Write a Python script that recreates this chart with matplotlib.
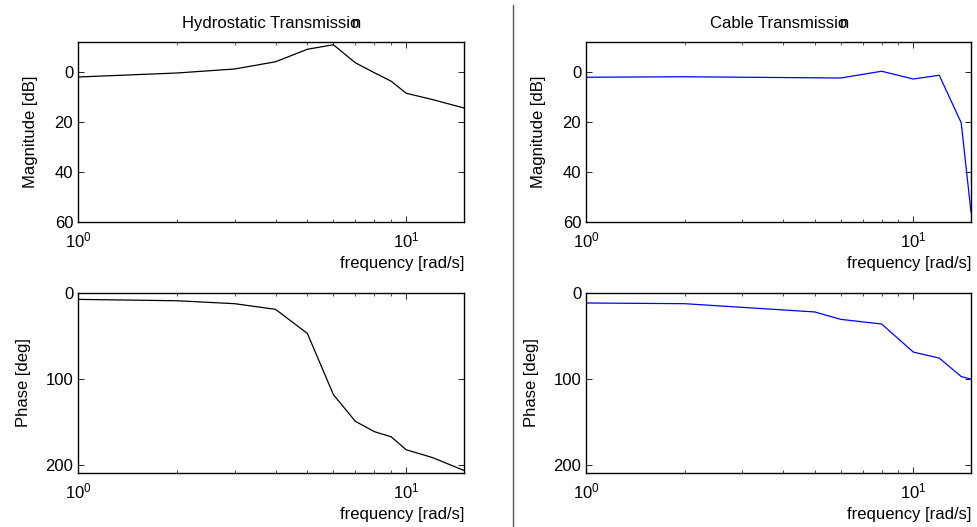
import numpy as np
import matplotlib.pyplot as plt
from matplotlib.lines import Line2D

plt.rcParams['font.family'] = ['Liberation Sans', 'DejaVu Sans']
plt.rcParams['font.size'] = 12
plt.rcParams['mathtext.default'] = 'regular'

# hydrostatic transmission (axis drawn downward)
hyd_freq = [1, 2, 3, 4, 5, 6, 7, 8, 9, 10, 12, 15]
hyd_mag = [2.0, 0.4, -1.2, -4.1, -9.1, -10.9, -3.7, 0.3, 3.7, 8.5, 11.0, 14.4]
hyd_phase = [7.4, 9, 12.4, 19, 47, 118, 149, 161, 167, 182, 191, 206]

# cable transmission
cab_freq_mag = [1, 2, 6, 8, 10, 12, 14, 15]
cab_mag = [2.1, 1.9, 2.4, -0.3, 2.8, 1.3, 20.3, 56]
cab_freq_ph = [1, 2, 5, 6, 8, 10, 12, 14, 15]
cab_phase = [11.6, 12.4, 22, 30.6, 36, 68.6, 75.6, 97, 100]

W, H = 977, 527
fig = plt.figure(figsize=(W / 100, H / 100), dpi=100)


def make_ax(x0, y0, x1, y1):
    ax = fig.add_axes([x0 / W, 1 - y1 / H, (x1 - x0) / W, (y1 - y0) / H])
    ax.set_xscale('log')
    ax.set_xlim(1, 15)
    ax.tick_params(which='both', direction='in', top=True, right=True)
    ax.tick_params(which='major', length=4, width=0.6)
    ax.tick_params(which='minor', length=2.5, width=0.5)
    ax.tick_params(axis='x', pad=6)
    for s in ax.spines.values():
        s.set_linewidth(1.0)
    ax.set_xticks([1, 10])
    ax.set_xlabel('frequency [rad/s]', loc='right', labelpad=4)
    return ax


def garbled_title(ax, txt):
    t = ax.set_title(txt + 'Transmissio', pad=10, fontsize=12)
    ax.annotate('n', xy=(1, 0), xycoords=t, xytext=(-5.5, 0),
                textcoords='offset points', ha='left', va='bottom', fontsize=12)


# left column
ax1 = make_ax(78, 42, 464, 222)
ax1.plot(hyd_freq, hyd_mag, color='black', lw=0.9)
ax1.set_ylim(60, -12)
ax1.set_yticks([0, 20, 40, 60])
ax1.set_ylabel('Magnitude [dB]', labelpad=12)
garbled_title(ax1, 'Hydrostatic ')

ax2 = make_ax(78, 293, 464, 473)
ax2.plot(hyd_freq, hyd_phase, color='black', lw=0.9)
ax2.set_ylim(209, 0)
ax2.set_yticks([0, 100, 200])
ax2.set_ylabel('Phase [deg]', labelpad=10)

# right column
ax3 = make_ax(586, 42, 971, 222)
ax3.plot(cab_freq_mag, cab_mag, color='blue', lw=0.9)
ax3.set_ylim(60, -12)
ax3.set_yticks([0, 20, 40, 60])
ax3.set_ylabel('Magnitude [dB]', labelpad=12)
garbled_title(ax3, 'Cable ')

ax4 = make_ax(586, 293, 971, 473)
ax4.plot(cab_freq_ph, cab_phase, color='blue', lw=0.9)
ax4.set_ylim(209, 0)
ax4.set_yticks([0, 100, 200])
ax4.set_ylabel('Phase [deg]', labelpad=10)

# separator between the two columns
fig.add_artist(Line2D([513 / W, 513 / W], [0, 1 - 5 / H], color='0.35', lw=1.0))

fig.savefig('out.png', dpi=100)
